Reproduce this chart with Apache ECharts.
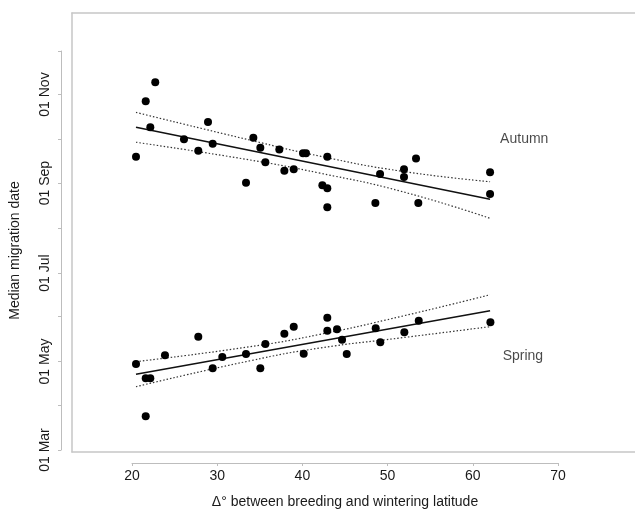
<!DOCTYPE html>
<html>
<head>
<meta charset="utf-8">
<script src="https://cdn.jsdelivr.net/npm/echarts@6/dist/echarts.min.js"></script>
<style>
  html, body { margin: 0; padding: 0; background: #fff; }
  #chart { width: 635px; height: 509px; }
</style>
</head>
<body>
<div id="chart"></div>
<script>
// latitude difference (deg) and median date as day of year (1 Mar = 60)
var autumnX = [20.47, 21.61, 22.73, 22.15, 26.10, 27.78, 28.92, 29.47, 33.38, 34.24,
  35.06, 35.65, 37.29, 37.88, 38.98, 40.07, 40.42, 42.92, 42.34, 42.92,
  42.92, 49.11, 48.56, 51.92, 51.92, 53.33, 53.60, 62.02, 62.02];
var autumnY = [262.1, 300.3, 313.4, 282.4, 274.1, 266.3, 286.1, 271.1, 244.2, 275.2,
  268.3, 258.3, 267.2, 252.5, 253.5, 264.5, 264.5, 262.1, 242.4, 240.4,
  227.3, 250.2, 230.2, 253.5, 248.1, 261.0, 230.2, 251.4, 236.4];

var springX = [20.47, 21.61, 22.15, 21.61, 23.87, 27.78, 29.47, 30.60, 33.38, 35.06,
  35.65, 37.88, 38.98, 40.15, 42.92, 42.92, 44.06, 44.65, 45.20, 48.60,
  49.14, 51.96, 53.65, 62.06];
var springY = [119.3, 109.4, 109.4, 83.2, 125.3, 138.1, 116.3, 124.1, 126.2, 116.3,
  133.1, 140.2, 145.0, 126.4, 151.2, 142.2, 143.2, 136.0, 126.2, 143.9,
  134.2, 141.1, 149.1, 148.0];

// fitted lines (end points) and confidence bands
var fitX = [20.47, 62.02];
var autumnFit = [282.4, 232.8];
var springFit = [112.2, 156.0];
var bandX = [20.47, 33.85, 42.07, 51.46, 62.02];
var autumnUpper = [292.7, 273.6, 262.5, 252.3, 244.9];
var autumnLower = [272.1, 259.9, 250.8, 238.5, 219.7];
var springUpper = [120.9, 131.2, 139.7, 151.9, 167.0];
var springLower = [103.6, 121.5, 130.3, 137.2, 145.0];

var labelNames = ['Autumn', 'Spring'];
var labelX = [63.2, 63.5];
var labelY = [274.3, 125.0];

var xTicks = [20, 70];
var monthTickDays = [60, 91, 121, 152, 182, 213, 244, 274, 305, 335];
var monthLabelDays = [60, 121, 182, 244, 305];
var monthLabelNames = ['01 Mar', '01 May', '01 Jul', '01 Sep', '01 Nov'];

function pairs(xs, ys) {
  return xs.map(function (x, i) { return [x, ys[i]]; });
}

var axisGray = '#bdbdbd';
var boxGray = '#c6c6c6';
var textColor = '#1a1a1a';
var font = 'Liberation Sans, Arial, sans-serif';

var chart = echarts.init(document.getElementById('chart'));

function lineSeries(xs, ys, dotted) {
  return {
    type: 'line',
    xAxisIndex: 0,
    yAxisIndex: 0,
    data: pairs(xs, ys),
    smooth: dotted ? 0.5 : false,
    showSymbol: false,
    silent: true,
    lineStyle: {
      color: dotted ? '#333' : '#111',
      width: dotted ? 1.2 : 1.5,
      type: dotted ? [1.5, 2] : 'solid'
    },
    z: 2
  };
}

// plot box drawn with bare axis lines (right side runs off the page)
function boxAxis(extra) {
  return Object.assign({
    type: 'value',
    axisLine: { show: true, onZero: false, lineStyle: { color: boxGray, width: 1.5 } },
    axisTick: { show: false },
    axisLabel: { show: false },
    splitLine: { show: false }
  }, extra);
}

var option = {
  animation: false,
  backgroundColor: '#fff',
  textStyle: { fontFamily: font },
  grid: [
    { left: 72, top: 13, width: 600, bottom: 57, outerBoundsMode: 'none' },
    { left: 132, right: 77, top: 13, bottom: 46, outerBoundsMode: 'none' },
    { left: 61, width: 10, top: 51, bottom: 59, outerBoundsMode: 'none' }
  ],
  xAxis: [
    boxAxis({ gridIndex: 0, position: 'bottom', min: 12.96, max: 83.37 }),
    {
      gridIndex: 1, type: 'value', position: 'bottom',
      min: xTicks[0], max: xTicks[1], interval: 10,
      name: 'Δ° between breeding and wintering latitude',
      nameLocation: 'middle', nameGap: 32,
      nameTextStyle: { color: textColor, fontSize: 14, fontFamily: font },
      axisLine: { show: true, lineStyle: { color: axisGray, width: 1 } },
      axisTick: { show: true, length: 3, lineStyle: { color: axisGray } },
      axisLabel: { color: textColor, fontSize: 14, margin: 6, fontFamily: font },
      splitLine: { show: false }
    },
    { gridIndex: 2, type: 'value', show: false },
    boxAxis({ gridIndex: 0, position: 'top', min: 12.96, max: 83.37 })
  ],
  yAxis: [
    boxAxis({ gridIndex: 0, position: 'left', min: 58.62, max: 361.2 }),
    { gridIndex: 1, type: 'value', show: false },
    {
      gridIndex: 2, type: 'value', position: 'left',
      min: monthTickDays[0], max: monthTickDays[monthTickDays.length - 1],
      name: 'Median migration date',
      nameLocation: 'middle', nameGap: 39,
      nameTextStyle: { color: textColor, fontSize: 14, fontFamily: font },
      axisLine: { show: true, lineStyle: { color: axisGray, width: 1 } },
      axisTick: { show: true, length: 3, customValues: monthTickDays,
        lineStyle: { color: axisGray } },
      axisLabel: {
        color: textColor, fontSize: 14, margin: 9, rotate: 90, fontFamily: font,
        customValues: monthLabelDays,
        formatter: function (v) {
          var i = monthLabelDays.indexOf(Math.round(v));
          return i >= 0 ? monthLabelNames[i] : '';
        }
      },
      splitLine: { show: false }
    }
  ],
  series: [
    lineSeries(fitX, autumnFit, false),
    lineSeries(bandX, autumnUpper, true),
    lineSeries(bandX, autumnLower, true),
    lineSeries(fitX, springFit, false),
    lineSeries(bandX, springUpper, true),
    lineSeries(bandX, springLower, true),
    {
      type: 'scatter', xAxisIndex: 0, yAxisIndex: 0,
      data: pairs(autumnX, autumnY), symbolSize: 8, clip: false,
      itemStyle: { color: '#000', opacity: 1 }, z: 3
    },
    {
      type: 'scatter', xAxisIndex: 0, yAxisIndex: 0,
      data: pairs(springX, springY), symbolSize: 8, clip: false,
      itemStyle: { color: '#000', opacity: 1 }, z: 3
    },
    {
      type: 'scatter', xAxisIndex: 0, yAxisIndex: 0,
      data: labelNames.map(function (n, i) { return { name: n, value: [labelX[i], labelY[i]] }; }),
      symbolSize: 0, silent: true,
      label: {
        show: true, position: 'right', distance: 0, formatter: '{b}',
        color: textColor, fontSize: 14, fontFamily: font
      }
    }
  ]
};

chart.setOption(option);
</script>
</body>
</html>
